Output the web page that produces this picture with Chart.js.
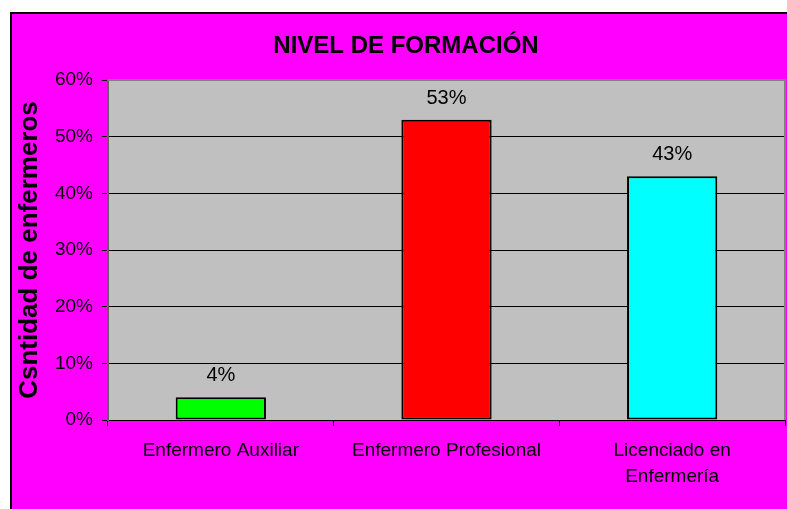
<!DOCTYPE html>
<html>
<head>
<meta charset="utf-8">
<script src="https://cdn.jsdelivr.net/npm/chart.js@4"></script>
<style>
  html, body { margin: 0; padding: 0; background: #fff; }
  #wrap { position: relative; width: 787px; height: 509px; }
</style>
</head>
<body>
<div id="wrap"><canvas id="nivelChart" width="787" height="509"></canvas></div>
<script>
// datos del grafico
const categorias = ['Enfermero Auxiliar', 'Enfermero Profesional', ['Licenciado en', 'Enfermería']];
const porcentajes = [4, 53, 43];
const coloresBarra = ['#00FF00', '#FF0000', '#00FFFF'];
const ticksY = [0, 10, 20, 30, 40, 50, 60];
const titulo = 'NIVEL DE FORMACIÓN';
const tituloEje = 'Csntidad de enfermeros';

const fuente = '"Liberation Sans", Arial, sans-serif';
Chart.defaults.color = '#000';
Chart.defaults.font.family = fuente;

// fondo magenta, marco y area gris
const fondoPlugin = {
    id: 'fondo',
    beforeDraw(chart) {
        const ctx = chart.ctx;
        const a = chart.chartArea;
        ctx.save();
        ctx.fillStyle = '#FFFFFF';
        ctx.fillRect(0, 0, chart.width, chart.height);
        ctx.fillStyle = '#FF00FF';
        ctx.fillRect(10, 12, chart.width - 10, chart.height - 12);
        ctx.fillStyle = '#000';
        ctx.fillRect(10, 12, chart.width - 10, 2);
        ctx.fillRect(10, 12, 2, chart.height - 12);
        ctx.fillStyle = '#C0C0C0';
        ctx.fillRect(a.left, a.top, a.right - a.left, a.bottom - a.top);
        ctx.restore();
    },
    afterDraw(chart) {
        const ctx = chart.ctx;
        const a = chart.chartArea;
        ctx.save();
        // borde gris arriba y derecha
        ctx.strokeStyle = '#808080';
        ctx.lineWidth = 2;
        ctx.beginPath();
        ctx.moveTo(a.left, a.top);
        ctx.lineTo(a.right, a.top);
        ctx.lineTo(a.right, a.bottom);
        ctx.stroke();
        // titulo
        ctx.fillStyle = '#000';
        ctx.font = 'bold 24px ' + fuente;
        ctx.textAlign = 'center';
        ctx.textBaseline = 'middle';
        ctx.fillText(titulo, 406, 46);
        ctx.restore();
    }
};

// etiquetas de valor encima de las barras
const etiquetasPlugin = {
    id: 'etiquetas',
    afterDatasetsDraw(chart) {
        const ctx = chart.ctx;
        const meta = chart.getDatasetMeta(0);
        ctx.save();
        ctx.fillStyle = '#000';
        ctx.font = '20px ' + fuente;
        ctx.textAlign = 'center';
        ctx.textBaseline = 'alphabetic';
        meta.data.forEach((bar, i) => {
            ctx.fillText(porcentajes[i] + '%', bar.x, bar.y - 16);
        });
        ctx.restore();
    }
};

const ctx = document.getElementById('nivelChart').getContext('2d');
new Chart(ctx, {
    type: 'bar',
    data: {
        labels: categorias,
        datasets: [{
            data: porcentajes,
            backgroundColor: coloresBarra,
            borderColor: '#000',
            borderWidth: 2,
            borderSkipped: false,
            barPercentage: 0.4,
            categoryPercentage: 1.0
        }]
    },
    options: {
        responsive: false,
        animation: false,
        layout: { padding: { left: 0, top: 80, right: 2, bottom: 0 } },
        plugins: {
            legend: { display: false },
            title: { display: false },
            tooltip: { enabled: false }
        },
        scales: {
            x: {
                offset: true,
                afterFit(scale) { scale.height = 89; },
                grid: {
                    offset: true,
                    drawOnChartArea: false,
                    drawTicks: true,
                    tickLength: 6,
                    color: '#000'
                },
                border: { color: '#000', width: 1 },
                ticks: {
                    font: { size: 19, lineHeight: 1.35 },
                    padding: 12,
                    maxRotation: 0,
                    autoSkip: false
                }
            },
            y: {
                min: ticksY[0],
                max: ticksY[ticksY.length - 1],
                afterFit(scale) { scale.width = 108; },
                afterBuildTicks(scale) { scale.ticks = ticksY.map(v => ({ value: v })); },
                grid: {
                    color: '#000',
                    lineWidth: 1,
                    tickLength: 6
                },
                border: { color: '#606060', width: 2 },
                ticks: {
                    font: { size: 19 },
                    padding: 9,
                    callback: v => v + '%'
                },
                title: {
                    display: true,
                    text: tituloEje,
                    font: { size: 26, weight: 'bold' },
                    padding: { top: 14, bottom: 0 }
                }
            }
        }
    },
    plugins: [fondoPlugin, etiquetasPlugin]
});
</script>
</body>
</html>
